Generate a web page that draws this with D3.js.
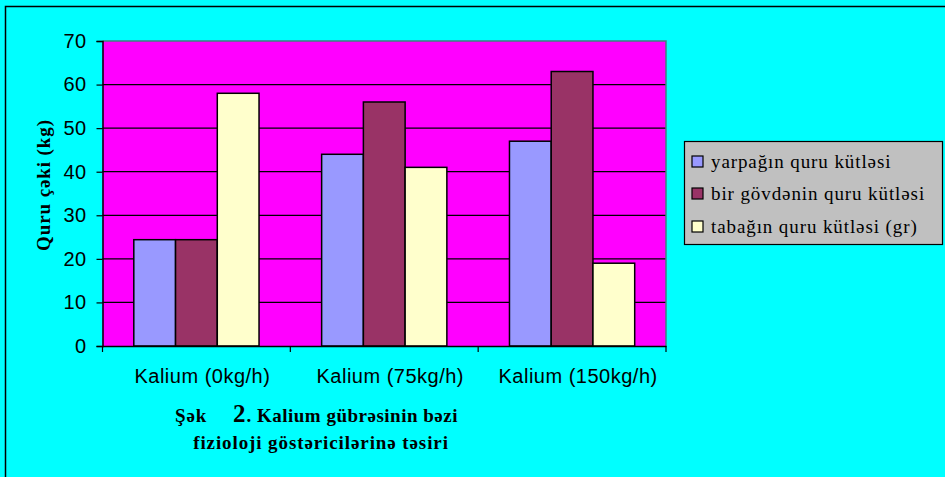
<!DOCTYPE html>
<html>
<head>
<meta charset="utf-8">
<script src="https://cdn.jsdelivr.net/npm/d3@7"></script>
<style>
  html, body { margin: 0; padding: 0; background: #00ffff; }
  svg { display: block; }
</style>
</head>
<body>
<svg id="chart" width="945" height="477"></svg>
<script>
// Dry mass by potassium fertiliser dose
const categories = ["Kalium (0kg/h)", "Kalium (75kg/h)", "Kalium (150kg/h)"];
const seriesNames = ["yarpağın quru kütləsi", "bir gövdənin quru kütləsi", "tabağın quru kütləsi (gr)"];
const leafMass = [24.4, 44, 47];
const stemMass = [24.4, 56, 63];
const tuberMass = [58, 41, 19];
const seriesColors = ["#9999ff", "#993366", "#ffffcc"];
const yTicks = [0, 10, 20, 30, 40, 50, 60, 70];

const seriesValues = [leafMass, stemMass, tuberMass];

const SANS = "'Liberation Sans', Arial, sans-serif";
const SERIF = "'Liberation Serif', 'Times New Roman', serif";

const svg = d3.select("#chart");

// outer frame
svg.append("rect")
  .attr("x", 5.5).attr("y", 6.5)
  .attr("width", 1000).attr("height", 1000)
  .attr("fill", "#00ffff").attr("stroke", "#000").attr("stroke-width", 1.5);

const plot = { left: 102.5, right: 666, top: 41, bottom: 346 };

const x = d3.scaleBand().domain(categories).range([plot.left, plot.right]).paddingInner(0).paddingOuter(0);
const y = d3.scaleLinear().domain([0, 70]).range([plot.bottom, plot.top]);

// plot area
svg.append("rect")
  .attr("x", plot.left).attr("y", plot.top)
  .attr("width", plot.right - plot.left).attr("height", plot.bottom - plot.top)
  .attr("fill", "#ff00ff");

// gridlines
svg.append("g")
  .selectAll("line")
  .data(yTicks.filter(d => d > 0 && d < 70))
  .join("line")
  .attr("x1", plot.left).attr("x2", plot.right)
  .attr("y1", d => y(d)).attr("y2", d => y(d))
  .attr("stroke", "#000").attr("stroke-width", 1.2);

// plot area border (top / right)
svg.append("path")
  .attr("d", `M${plot.left},${plot.top}H${plot.right}V${plot.bottom}`)
  .attr("fill", "none").attr("stroke", "#408080").attr("stroke-width", 1.5);

// bars: gap width 150% of bar width
const barW = x.bandwidth() / 4.5;
const groups = svg.append("g");
categories.forEach((cat, ci) => {
  const gx = x(cat) + barW * 0.75;
  seriesValues.forEach((vals, si) => {
    groups.append("rect")
      .attr("x", gx + si * barW)
      .attr("y", y(vals[ci]))
      .attr("width", barW)
      .attr("height", y(0) - y(vals[ci]))
      .attr("fill", seriesColors[si])
      .attr("stroke", "#000")
      .attr("stroke-width", 1.5);
  });
});

// y axis
const yAxis = svg.append("g")
  .attr("transform", `translate(${plot.left},0)`)
  .call(d3.axisLeft(y).tickValues(yTicks).tickSize(6).tickPadding(10).tickFormat(d3.format("d")));
yAxis.select(".domain").attr("stroke", "#000").attr("stroke-width", 1.5);
yAxis.selectAll(".tick line").attr("stroke", "#000").attr("stroke-width", 1.2);
yAxis.selectAll(".tick text")
  .attr("font-family", SANS).attr("letter-spacing", 0.4)
  .attr("font-size", 20).attr("fill", "#000");

// x axis
const xAxis = svg.append("g")
  .attr("transform", `translate(0,${plot.bottom})`)
  .call(d3.axisBottom(x).tickSize(0).tickPadding(23));
xAxis.select(".domain").attr("stroke", "#000").attr("stroke-width", 1.5);
xAxis.selectAll(".tick text")
  .attr("dx", 6)
  .attr("font-family", SANS).attr("letter-spacing", 0.5)
  .attr("font-size", 20).attr("fill", "#000");
// category separators
svg.append("g")
  .selectAll("line")
  .data([plot.left, ...categories.map(c => x(c) + x.bandwidth())])
  .join("line")
  .attr("x1", d => d).attr("x2", d => d)
  .attr("y1", plot.bottom).attr("y2", plot.bottom + 6)
  .attr("stroke", "#000").attr("stroke-width", 1.2);

// y axis title
svg.append("text")
  .attr("transform", "translate(50,185) rotate(-90)")
  .attr("text-anchor", "middle")
  .attr("font-family", SERIF).attr("letter-spacing", 0.9)
  .attr("font-weight", "bold").attr("font-size", 19)
  .text("Quru çəki (kg)");

// legend
const legend = svg.append("g");
legend.append("rect")
  .attr("x", 684.5).attr("y", 141.5).attr("width", 258).attr("height", 103)
  .attr("fill", "#c0c0c0").attr("stroke", "#000").attr("stroke-width", 1.2);
const rowY = [161.5, 193.5, 226.5];
seriesNames.forEach((name, i) => {
  legend.append("rect")
    .attr("x", 692).attr("y", rowY[i] - 5.5).attr("width", 11).attr("height", 11)
    .attr("fill", seriesColors[i]).attr("stroke", "#000").attr("stroke-width", 1.2);
  legend.append("text")
    .attr("x", 711).attr("y", rowY[i] + 6)
    .attr("font-family", SERIF).attr("letter-spacing", 0.9)
    .attr("font-size", 19)
    .text(name);
});

// caption
const cap = svg.append("g")
  .attr("font-family", SERIF)
  .attr("font-weight", "bold");
const line1 = cap.append("text").attr("x", 175).attr("y", 422).attr("font-size", 19).attr("letter-spacing", 0.9);
line1.append("tspan").text("Şək");
line1.append("tspan").attr("x", 233).attr("font-size", 25).text("2");
line1.append("tspan").attr("letter-spacing", 0.5).text(". Kalium gübrəsinin bəzi");
cap.append("text").attr("x", 321).attr("y", 449).attr("text-anchor", "middle").attr("font-size", 19)
  .attr("letter-spacing", 0.9)
  .text("fizioloji göstəricilərinə təsiri");
</script>
</body>
</html>
